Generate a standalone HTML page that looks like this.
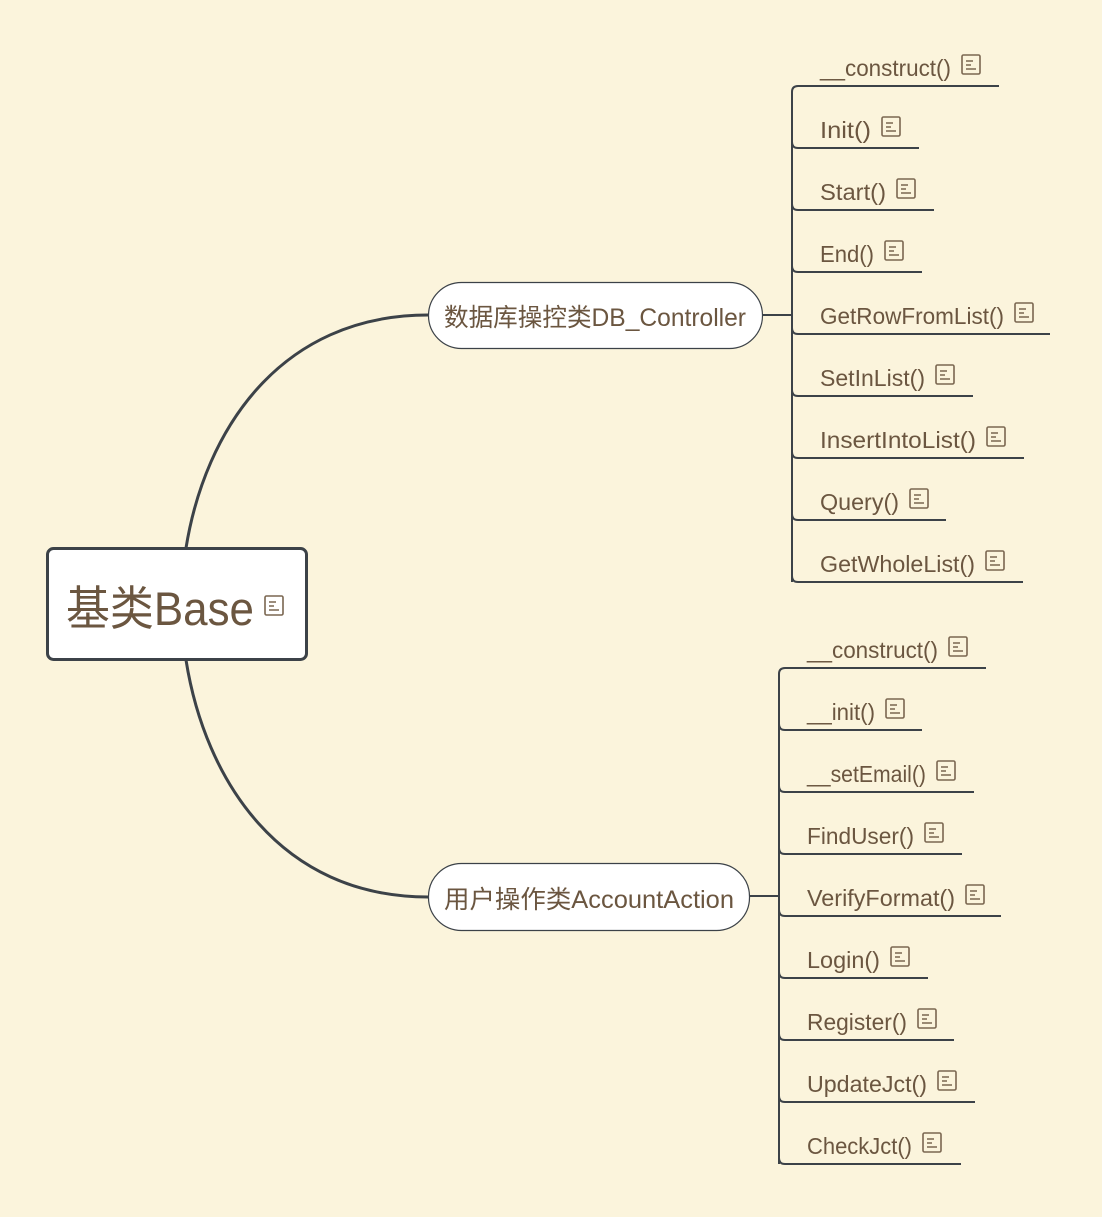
<!DOCTYPE html>
<html><head><meta charset="utf-8"><style>
html,body{margin:0;padding:0;background:#fbf4dc;}
svg{display:block}
text{font-family:"Liberation Sans","Noto Sans CJK SC",sans-serif;fill:#6b5640;}
</style></head><body>
<svg width="1102" height="1217" viewBox="0 0 1102 1217" xmlns="http://www.w3.org/2000/svg">
<rect width="1102" height="1217" fill="#fbf4dc"/>
<g fill="none" stroke="#3c4248" stroke-width="3">
<path d="M186,548 C205,430 280,315 428,315"/>
<path d="M186,660 C205,780 280,897 428,897"/>
</g>
<rect x="47.5" y="548.5" width="259" height="111" rx="6" fill="#fff" stroke="#3c4248" stroke-width="3"/>
<text x="66" y="625" font-size="47" textLength="188" lengthAdjust="spacingAndGlyphs">基类Base</text>
<g fill="none" stroke="#7a6650" stroke-width="1.6">
<rect x="265" y="596" width="18" height="19" rx="1.5"/>
<path d="M269,602h7M269,606h5M269,610h10"/>
</g>
<rect x="428.5" y="282.5" width="334" height="66" rx="33" fill="#fff" stroke="#3c4248" stroke-width="1.2"/>
<text x="444" y="326" font-size="25" textLength="302" lengthAdjust="spacingAndGlyphs">数据库操控类DB_Controller</text>
<rect x="428.5" y="863.5" width="321" height="67" rx="33" fill="#fff" stroke="#3c4248" stroke-width="1.2"/>
<text x="444" y="908" font-size="25" textLength="290" lengthAdjust="spacingAndGlyphs">用户操作类AccountAction</text>
<g fill="none" stroke="#3c4248" stroke-width="2">
<path d="M763,315H792M750,896H779"/>
<path d="M792,582V92q0,-6 6,-6"/>
<path d="M779,1164V674q0,-6 6,-6"/>
</g>
<g id="items"></g>
</svg>
<script>
var g=document.getElementById('items'),ns='http://www.w3.org/2000/svg';
function add(list,vx,tx){list.forEach(function(it,i){var n=it[0],y=it[1],e=it[2],ix=it[3];
var p=document.createElementNS(ns,'path');p.setAttribute('d',i==0?('M'+(vx+6)+','+y+'H'+e):('M'+vx+','+(y-6)+'q0,6 6,6H'+e));p.setAttribute('fill','none');p.setAttribute('stroke','#3c4248');p.setAttribute('stroke-width','2');g.appendChild(p);
var t=document.createElementNS(ns,'text');t.setAttribute('x',tx);t.setAttribute('y',y-10);t.setAttribute('font-size','23');t.setAttribute('textLength',ix-11-tx);t.setAttribute('lengthAdjust','spacingAndGlyphs');t.textContent=n;g.appendChild(t);
var r=document.createElementNS(ns,'rect');r.setAttribute('x',ix);r.setAttribute('y',y-31);r.setAttribute('width',18);r.setAttribute('height',19);r.setAttribute('rx',1.5);r.setAttribute('fill','none');r.setAttribute('stroke','#7a6650');r.setAttribute('stroke-width','1.6');g.appendChild(r);
var l=document.createElementNS(ns,'path');l.setAttribute('d','M'+(ix+4)+','+(y-25)+'h7M'+(ix+4)+','+(y-21)+'h5M'+(ix+4)+','+(y-17)+'h10');l.setAttribute('fill','none');l.setAttribute('stroke','#7a6650');l.setAttribute('stroke-width','1.6');g.appendChild(l);
});}
add([["__construct()",86,999,962],["Init()",148,919,882],["Start()",210,934,897],["End()",272,922,885],["GetRowFromList()",334,1050,1015],["SetInList()",396,973,936],["InsertIntoList()",458,1024,987],["Query()",520,946,910],["GetWholeList()",582,1023,986]],792,820);
add([["__construct()",668,986,949],["__init()",730,922,886],["__setEmail()",792,974,937],["FindUser()",854,962,925],["VerifyFormat()",916,1001,966],["Login()",978,928,891],["Register()",1040,954,918],["UpdateJct()",1102,975,938],["CheckJct()",1164,961,923]],779,807);
</script>
</body></html>
